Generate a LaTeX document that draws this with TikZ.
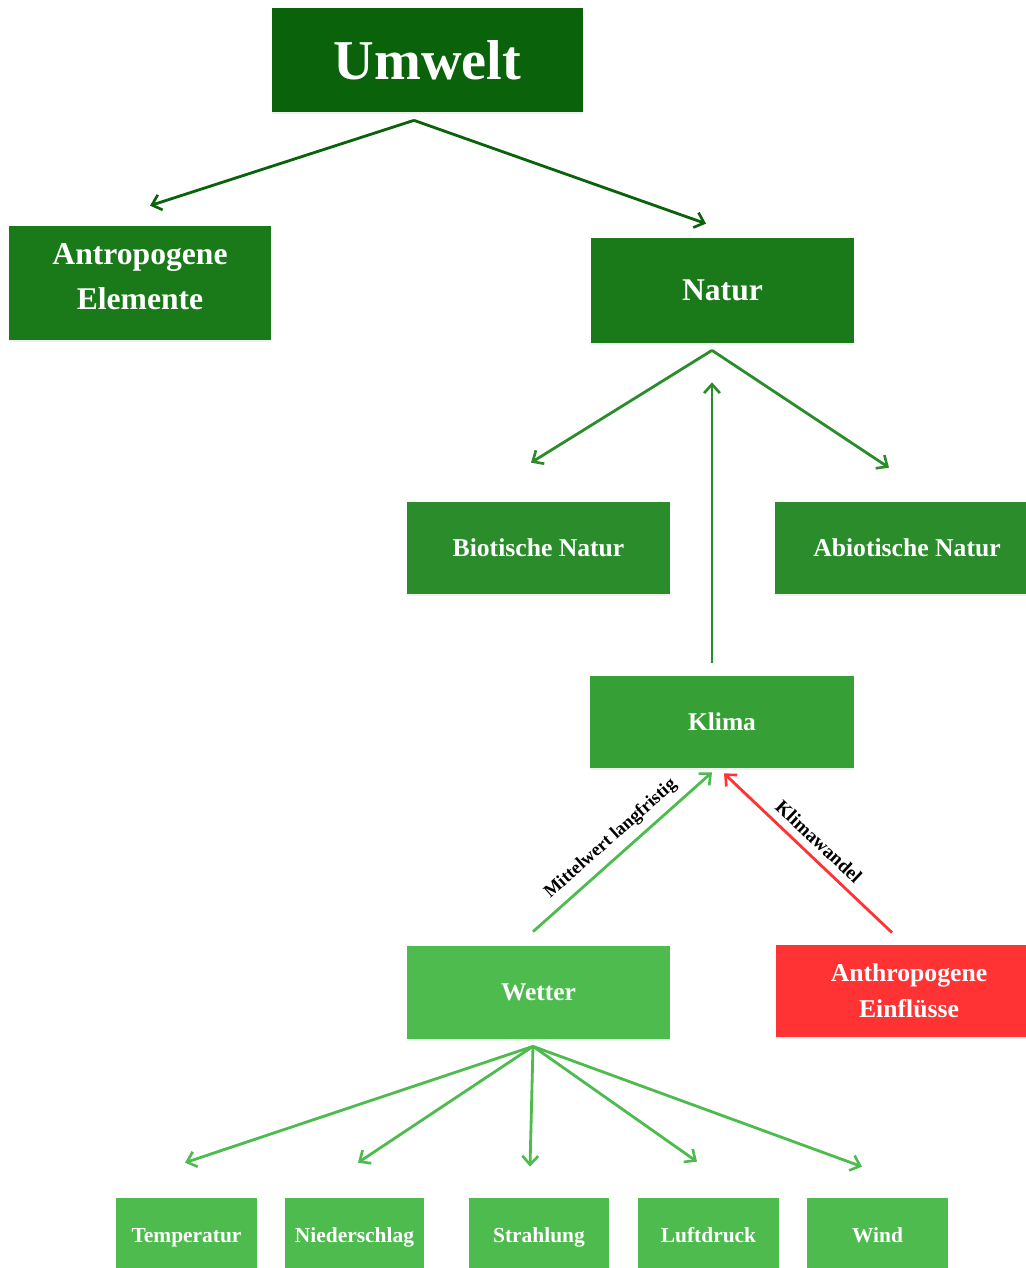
\documentclass[tikz,border=0pt]{standalone}
\usepackage{fontspec}
\setmainfont{Liberation Serif}
\usetikzlibrary{calc,arrows.meta,shadows}
\definecolor{gdark}{RGB}{10,98,10}
\definecolor{gmid}{RGB}{26,122,26}
\definecolor{gbio}{RGB}{42,140,42}
\definecolor{gklima}{RGB}{54,160,54}
\definecolor{glight}{RGB}{77,187,77}
\definecolor{rot}{RGB}{255,51,51}
\tikzstyle{box}=[rectangle,text=white,font=\bfseries,align=center,inner sep=0pt,drop shadow={shadow xshift=0pt,shadow yshift=-1.2pt,opacity=0.12}]
\tikzstyle{small}=[box,fill=glight,minimum width=2.8cm,minimum height=1.4cm,text height=13pt,text depth=2.6pt,font=\bfseries\fontsize{12.2}{15}\selectfont]
\tikzstyle{arr}=[-{Straight Barb[length=5pt,width=9pt,line width=1.5pt]},line width=1.6pt]

\begin{document}
\begin{tikzpicture}[x=0.02cm,y=-0.02cm]
\useasboundingbox (0,0) rectangle (1026,1268);
% Kaesten
\node[box,fill=gdark,minimum width=6.22cm,minimum height=2.08cm,font=\bfseries\fontsize{32}{38}\selectfont] (umwelt) at (427.5,60) {Umwelt};
\node[box,fill=gmid,minimum width=5.24cm,minimum height=2.28cm,text depth=7pt,font=\bfseries\fontsize{18}{25.5}\selectfont] (antro) at (140,283) {Antropogene\\Elemente};
\node[box,fill=gmid,minimum width=5.26cm,minimum height=2.1cm,font=\bfseries\fontsize{18}{22}\selectfont] (natur) at (722.5,290.5) {Natur};
\node[box,fill=gbio,minimum width=5.26cm,minimum height=1.84cm,font=\bfseries\fontsize{14.6}{18}\selectfont] (bio) at (538.5,548) {Biotische Natur};
\node[box,fill=gbio,minimum width=5.28cm,minimum height=1.84cm,font=\bfseries\fontsize{14.6}{18}\selectfont] (abio) at (907,548) {Abiotische Natur};
\node[box,fill=gklima,minimum width=5.28cm,minimum height=1.84cm,font=\bfseries\fontsize{14.5}{18}\selectfont] (klima) at (722,722) {Klima};
\node[box,fill=glight,minimum width=5.26cm,minimum height=1.86cm,font=\bfseries\fontsize{14.5}{18}\selectfont] (wetter) at (538.5,992.5) {Wetter};
\node[box,fill=rot,minimum width=5.32cm,minimum height=1.84cm,font=\bfseries\fontsize{14.6}{20.4}\selectfont] (anthro) at (909,991) {Anthropogene\\Einflüsse};
\node[small,minimum width=2.82cm] (temp) at (186.5,1233) {Temperatur};
\node[small,minimum width=2.78cm] (nieder) at (354.5,1233) {Niederschlag};
\node[small] (strahl) at (539,1233) {Strahlung};
\node[small,minimum width=2.82cm] (luft) at (708.5,1233) {Luftdruck};
\node[small,minimum width=2.82cm] (wind) at (877.5,1233) {Wind};
% Pfeile
\coordinate (U0) at ($(umwelt.south)+(-13.5,8)$);
\coordinate (N0) at ($(natur.south)+(-10.5,7)$);
\coordinate (W0) at ($(wetter.south)+(-5.5,7)$);
\draw[arr,gdark] (U0) -- ($(antro.north)+(10,-20)$);
\draw[arr,gdark] (U0) -- ($(natur.north)+(-16.5,-14)$);
\draw[arr,gbio] (N0) -- ($(bio.north)+(-7.5,-39)$);
\draw[arr,gbio] (N0) -- ($(abio.north)+(-18,-34)$);
\draw[arr,gbio] ($(klima.north)+(-10,-13)$) -- ($(natur.south)+(-10.5,39)$);
\draw[arr,glight] ($(wetter.north)+(-5.5,-14)$) -- node[midway,sloped,above=1pt,text=black,font=\bfseries\fontsize{10.5}{12}\selectfont]{Mittelwert langfristig} ($(klima.south)+(-10,4)$);
\draw[arr,rot] ($(anthro.north)+(-17,-12)$) -- node[midway,sloped,above=1pt,text=black,font=\bfseries\fontsize{11}{12}\selectfont]{Klimawandel} ($(klima.south)+(2,5)$);
\draw[arr,glight] (W0) -- ($(temp.north)+(-1.5,-35)$);
\draw[arr,glight] (W0) -- ($(nieder.north)+(3.5,-35)$);
\draw[arr,glight] (W0) -- ($(strahl.north)+(-9,-31)$);
\draw[arr,glight] (W0) -- ($(luft.north)+(-11.5,-36)$);
\draw[arr,glight] (W0) -- ($(wind.north)+(-15.5,-31)$);
\end{tikzpicture}
\end{document}
